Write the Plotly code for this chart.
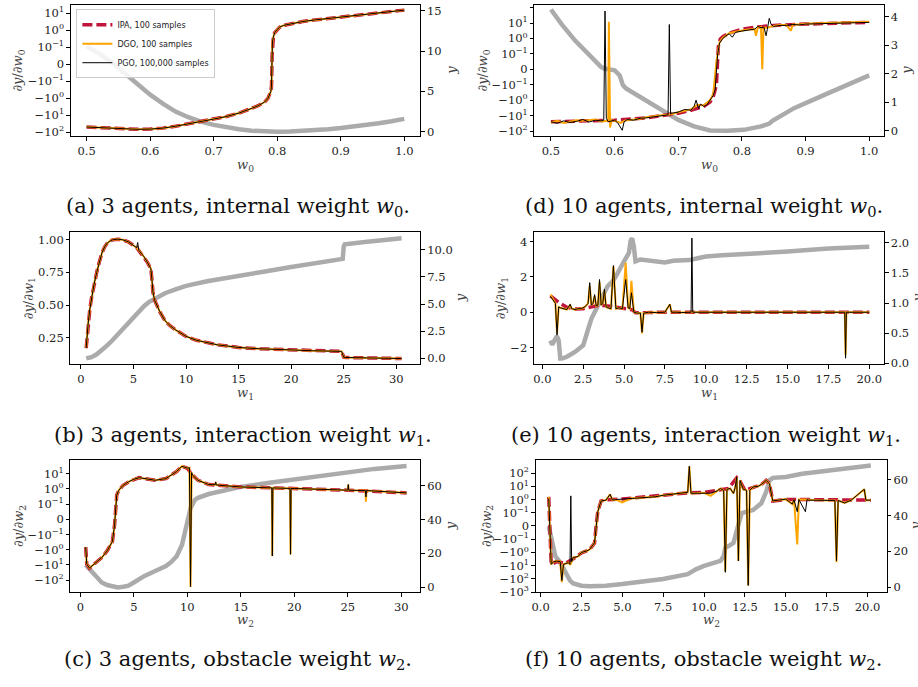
import math
import plotly.graph_objects as go

W, H = 918, 687

# ---------------- data ----------------
# (a) 3 agents, internal weight w0
x_a = [0.50, 0.52, 0.54, 0.56, 0.58, 0.60, 0.62, 0.64, 0.66, 0.68, 0.70, 0.72, 0.74, 0.76, 0.77, 0.78,
       0.785, 0.79, 0.791, 0.792, 0.7925, 0.794, 0.796, 0.80, 0.804, 0.81, 0.82, 0.84, 0.86, 0.88, 0.90,
       0.92, 0.94, 0.96, 0.98, 1.00]
ipa_a = [-50, -55, -60, -65, -68, -66, -58, -45, -33, -25, -17, -12, -7.5, -4, -2.8, -1.7,
         -1.1, -0.4, -0.2, 0.05, 0.2, 0.4, 0.7, 1.1, 1.5, 1.9, 2.3, 3.2, 4.0, 4.8, 5.9,
         6.9, 8.3, 10, 12.3, 15]
dgo_a = list(ipa_a)
pgo_a = list(ipa_a)
xg_a = [0.50, 0.52, 0.54, 0.56, 0.58, 0.60, 0.62, 0.64, 0.66, 0.68, 0.70, 0.72, 0.74, 0.76, 0.78, 0.80,
        0.82, 0.84, 0.86, 0.88, 0.90, 0.92, 0.94, 0.96, 0.98, 1.00]
y_a = [10.6, 9.7, 8.6, 7.3, 5.9, 4.6, 3.5, 2.5, 1.8, 1.25, 0.85, 0.55, 0.3, 0.12, 0.03, 0.0,
       0.02, 0.08, 0.17, 0.3, 0.45, 0.62, 0.82, 1.05, 1.3, 1.6]

# (d) 10 agents, internal weight w0
x_d_ipa = [0.5, 0.55, 0.6, 0.65, 0.7, 0.72, 0.74, 0.75, 0.755, 0.76, 0.763, 0.766, 0.77, 0.78, 0.8,
           0.82, 0.85, 0.9, 0.95, 1.0]
ipa_d = [-25, -22, -20, -14, -7, -4.5, -2.5, -1.3, -0.6, -0.1, 0.3, 0.9, 1.3, 2.2, 4, 5.2, 7, 8.5, 10, 11]
x_d_dgo = [0.50, 0.51, 0.52, 0.53, 0.54, 0.55, 0.56, 0.57, 0.58, 0.59, 0.591, 0.593, 0.595, 0.60, 0.61,
           0.615, 0.62, 0.63, 0.64, 0.65, 0.66, 0.67, 0.68, 0.69, 0.70, 0.71, 0.72, 0.73, 0.74, 0.75,
           0.755, 0.76, 0.765, 0.77, 0.78, 0.79, 0.80, 0.81, 0.82, 0.822, 0.825, 0.83, 0.832, 0.834, 0.84,
           0.85, 0.86, 0.87, 0.877, 0.88, 0.89, 0.90, 0.92, 0.94, 0.96, 0.98, 1.0]
dgo_d = [-28, -22, -30, -24, -20, -22, -20, -18, -24, -22, 12, -60, -20, -22, -30,
         -22, -20, -18, -16, -13, -11, -10, -9, -8, -6, -5, -4, -2, -2.2, -1,
         -0.4, 0.05, 0.6, 1.1, 2.2, 2.7, 3.2, 3.8, 4, 1.5, 5, 5.5, 0.0, 5, 5,
         6.5, 7.5, 7.5, 3.2, 8, 8, 9, 9.5, 10, 11, 12, 12]
x_d_pgo = [0.50, 0.51, 0.52, 0.53, 0.54, 0.55, 0.56, 0.57, 0.58, 0.583, 0.585, 0.587, 0.59, 0.60, 0.605,
           0.61, 0.612, 0.615, 0.62, 0.63, 0.64, 0.65, 0.66, 0.67, 0.68, 0.684, 0.686, 0.688, 0.69, 0.70,
           0.71, 0.72, 0.725, 0.728, 0.732, 0.735, 0.74, 0.745, 0.75, 0.755, 0.758, 0.762, 0.765, 0.77, 0.775,
           0.78, 0.785, 0.79, 0.80, 0.81, 0.82, 0.825, 0.83, 0.835, 0.838, 0.84, 0.843, 0.846, 0.85, 0.86,
           0.87, 0.88, 0.89, 0.90, 0.92, 0.94, 0.96, 0.98, 1.0]
pgo_d = [-25, -32, -22, -28, -24, -18, -26, -20, -22, -20, 60, -15, -25, -20, -30,
         -60, -90, -25, -18, -20, -15, -14, -12, -10, -9, -9, 8, -8, -7, -6,
         -4, -4.5, -2.5, -1.0, -3.5, -1.8, -2.5, -2, -1, -0.5, -0.2, 0.1, 0.5, 1, 1.5,
         2, 1.2, 2.5, 3, 3.5, 4, 6, 5, 5, 1.5, 4, 20, 8, 6, 7,
         7, 8, 7.5, 8.5, 9, 9.5, 10, 11, 11]
xg_d = [0.5, 0.517, 0.538, 0.558, 0.579, 0.584, 0.60, 0.608, 0.613, 0.618, 0.64, 0.673, 0.70, 0.725,
        0.75, 0.777, 0.803, 0.83, 0.843, 0.848, 0.882, 0.934, 1.0]
y_d = [4.25, 3.73, 3.16, 2.69, 2.23, 2.18, 2.12, 1.94, 1.6, 1.48, 1.19, 0.73, 0.38, 0.15,
       0.01, 0.0, 0.03, 0.15, 0.25, 0.35, 0.79, 1.3, 1.94]

# (b) 3 agents, interaction weight w1
x_b = [0.5, 0.6, 0.7, 0.85, 1.0, 1.25, 1.5, 1.75, 2.0, 2.25, 2.5, 2.75, 3.0, 3.5, 4.0, 4.5, 5.0, 5.3, 5.4,
       5.5, 5.8, 6.0, 6.3, 6.5, 6.65, 6.75, 6.85, 7.0, 7.25, 7.5, 8.0, 8.5, 9.0, 10, 11, 12, 13, 14, 15,
       17, 20, 22, 24.8, 25.0, 25.2, 27, 30.5]
ipa_b = [0.17, 0.28, 0.37, 0.47, 0.55, 0.66, 0.75, 0.83, 0.9, 0.945, 0.975, 0.99, 1.0, 1.005, 1.0, 0.985,
         0.96, 0.94, 0.93, 0.92, 0.89, 0.87, 0.83, 0.8, 0.78, 0.7, 0.6, 0.54, 0.49, 0.45, 0.38, 0.34, 0.31,
         0.26, 0.23, 0.21, 0.195, 0.185, 0.175, 0.165, 0.155, 0.15, 0.145, 0.1, 0.098, 0.095, 0.09]
dgo_b = [0.17, 0.28, 0.37, 0.47, 0.55, 0.66, 0.75, 0.83, 0.9, 0.945, 0.975, 0.99, 1.0, 1.005, 1.0, 0.985,
         0.96, 0.94, 0.93, 0.92, 0.89, 0.87, 0.83, 0.8, 0.78, 0.7, 0.6, 0.54, 0.49, 0.45, 0.38, 0.34, 0.31,
         0.26, 0.23, 0.21, 0.195, 0.185, 0.175, 0.165, 0.155, 0.15, 0.145, 0.1, 0.098, 0.095, 0.09]
pgo_b = [0.17, 0.28, 0.37, 0.47, 0.55, 0.66, 0.75, 0.83, 0.9, 0.945, 0.975, 0.99, 1.0, 1.005, 1.0, 0.985,
         0.96, 0.94, 0.98, 0.92, 0.89, 0.87, 0.83, 0.8, 0.78, 0.7, 0.6, 0.54, 0.49, 0.45, 0.38, 0.34, 0.31,
         0.26, 0.23, 0.21, 0.195, 0.185, 0.175, 0.165, 0.155, 0.15, 0.145, 0.1, 0.098, 0.095, 0.09]
xg_b = [0.5, 1, 1.5, 2, 2.5, 3, 3.5, 4, 4.5, 5, 5.5, 6, 6.5, 7, 7.5, 8, 9, 10, 12, 15, 17.5, 20, 22.5,
        24.9, 25.0, 25.1, 27, 30.5]
y_b = [0.0, 0.12, 0.38, 0.75, 1.2, 1.67, 2.2, 2.7, 3.25, 3.8, 4.3, 4.8, 5.2, 5.5, 5.78, 6.0, 6.35, 6.67,
       7.1, 7.64, 8.0, 8.4, 8.8, 9.15, 10.3, 10.5, 10.7, 11.05]

# (e) 10 agents, interaction weight w1
x_e_ipa = [0.5, 0.7, 1.0, 1.5, 2.0, 2.5, 3.0, 3.5, 4.0, 4.5, 5.0, 5.5, 5.7, 6.0, 6.5, 7.0, 8, 10, 12, 14,
           16, 18, 20]
ipa_e = [0.92, 0.75, 0.55, 0.28, 0.18, 0.2, 0.28, 0.4, 0.36, 0.27, 0.2, 0.14, -0.03, -0.04, -0.02, 0.0,
         0.0, 0.0, 0.0, 0.0, 0.0, 0.0, 0.0]
x_e = [0.5, 0.6, 0.7, 0.8, 0.9, 1.0, 1.1, 1.3, 1.5, 1.7, 1.8, 2.0, 2.2, 2.4, 2.6, 2.8, 2.9, 3.0, 3.1, 3.2,
       3.3, 3.4, 3.5, 3.6, 3.7, 3.8, 3.9, 4.0, 4.2, 4.35, 4.5, 4.7, 4.9, 5.1, 5.25, 5.35, 5.45, 5.6, 5.8,
       6.0, 6.1, 6.2, 6.5, 7.0, 7.5, 7.8, 7.9, 8.2, 8.5, 9.1, 9.15, 9.2, 10, 12, 14, 16, 18, 18.5, 18.55,
       18.6, 20]
dgo_e = [1.0, 0.8, 0.65, 0.5, -1.2, 0.3, 0.25, 0.2, 0.15, 0.4, 0.2, 0.15, 0.2, 0.2, 0.3, 0.5, 1.5, 0.4,
         0.5, 0.9, 0.35, 0.4, 1.7, 0.4, 0.5, 1.2, 0.3, 0.25, 0.2, 2.6, 0.2, 0.25, 0.2, 2.8, 0.25, 0.2,
         1.77, 0.0, -0.05, -0.05, -1.2, -0.05, 0.0, -0.02, 0.0, 0.45, 0.0, 0.0, -0.02, 0.0, 0.05, 0.0,
         0.0, 0.0, 0.0, 0.0, 0.0, 0.0, -2.4, 0.0, 0.0]
pgo_e = [0.9, 0.75, 0.6, 0.5, -1.3, 0.3, 0.25, 0.2, 0.15, 0.45, 0.2, 0.15, 0.2, 0.2, 0.3, 0.5, 1.67, 0.4,
         0.5, 1.0, 0.35, 0.4, 1.85, 0.4, 0.5, 1.3, 0.3, 0.25, 0.2, 2.64, 0.2, 0.25, 0.2, 1.85, 0.25, 0.2,
         1.1, 0.0, -0.05, -0.05, -1.13, -0.05, 0.0, -0.02, 0.0, 0.45, 0.0, 0.0, -0.02, 0.0, 4.19, 0.0,
         0.0, 0.0, 0.0, 0.0, 0.0, 0.0, -2.6, 0.0, 0.0]
xg_e = [0.5, 0.6, 0.7, 0.8, 0.9, 1.0, 1.05, 1.1, 1.2, 1.5, 2.0, 2.5, 2.75, 3.0, 3.5, 4.0, 4.3, 4.5, 5.0,
        5.3, 5.4, 5.5, 5.6, 5.7, 6.0, 6.5, 7.0, 7.5, 8.0, 8.5, 9.0, 9.5, 10, 11, 12.5, 15, 17.5, 20]
y_e = [0.38, 0.31, 0.36, 0.42, 0.45, 0.38, 0.15, 0.08, 0.08, 0.11, 0.19, 0.30, 0.52, 0.74, 1.01, 1.28,
       1.36, 1.44, 1.69, 1.83, 2.03, 2.07, 1.93, 1.69, 1.72, 1.70, 1.68, 1.67, 1.70, 1.71, 1.71, 1.74,
       1.77, 1.79, 1.81, 1.85, 1.90, 1.93]

# (c) 3 agents, obstacle weight w2
x_c_ipa = [0.5, 0.6, 0.85, 1.5, 2.0, 2.5, 3.0, 3.2, 3.3, 3.4, 3.6, 4.0, 4.5, 5.0, 5.5, 6.0, 7.0, 8.0,
           8.5, 9.0, 9.5, 10.0, 10.5, 11.0, 12.0, 13.0, 15, 18, 20, 25, 30.5]
ipa_c = [-0.68, -8.9, -16, -6.9, -3.3, -1.2, -0.28, -0.036, 0.094, 0.39, 0.83, 1.74, 2.9, 4.3, 5.5, 4.8,
         3.7, 4.8, 7.8, 14, 31, 23, 7.9, 3.7, 1.95, 1.74, 1.35, 1.17, 1.07, 0.83, 0.55]
x_c = [0.5, 0.6, 0.85, 1.5, 2.0, 2.5, 3.0, 3.2, 3.3, 3.4, 3.6, 4.0, 4.5, 5.0, 5.5, 6.0, 7.0, 8.0, 8.5,
       9.0, 9.5, 10.0, 10.2, 10.3, 10.4, 10.5, 11.0, 12.0, 12.6, 12.65, 12.7, 13.0, 15, 17.9, 17.95, 18.0,
       19.6, 19.65, 19.7, 20, 25.0, 25.05, 25.1, 26.65, 26.7, 26.75, 30.5]
dgo_c = [-0.68, -8.9, -16, -6.9, -3.3, -1.2, -0.28, -0.036, 0.094, 0.39, 0.83, 1.74, 2.9, 4.3, 5.5, 4.8,
         3.7, 4.8, 7.8, 14, 31, 23, 25, -280, 12, 7.9, 3.7, 1.95, 1.9, 2.9, 1.85, 1.74, 1.35, 1.17, -2.6,
         1.17, 1.08, -2.0, 1.07, 1.07, 0.83, 1.95, 0.82, 0.78, 0.145, 0.78, 0.55]
pgo_c = [-0.68, -8.9, -16, -6.9, -3.3, -1.2, -0.28, -0.036, 0.094, 0.39, 0.83, 1.74, 2.9, 4.3, 5.5, 4.8,
         3.7, 4.8, 7.8, 14, 31, 23, 25, -260, 12, 7.9, 3.7, 1.95, 1.9, 2.9, 1.85, 1.74, 1.35, 1.17, -2.6,
         1.17, 1.08, -2.0, 1.07, 1.07, 0.83, 1.95, 0.82, 0.78, 0.3, 0.78, 0.55]
xg_c = [0.5, 1.0, 1.5, 2.0, 2.5, 3.0, 3.5, 4.0, 4.5, 5.0, 6.0, 7.0, 8.0, 8.5, 9.0, 9.5, 10.0, 10.3, 10.7,
        11.0, 12.0, 13.0, 15, 17.5, 20, 22.5, 25, 27.5, 30.5]
y_c = [13.2, 9.7, 5.8, 2.9, 1.4, 0.4, 0.0, 0.4, 1.0, 2.9, 6.8, 9.7, 12.6, 15, 18.4, 25, 38.8, 46.6, 51.5,
       52.8, 55, 56.3, 59.2, 61.5, 63.7, 66, 68, 69.8, 71.5]

# (f) 10 agents, obstacle weight w2
x_f_ipa = [0.5, 0.6, 0.65, 1.0, 1.5, 2.0, 2.5, 3.0, 3.3, 3.4, 3.5, 3.7, 4.0, 5.0, 7.5, 9.0, 10.0, 11.0,
           11.5, 12.0, 12.2, 12.5, 13.0, 13.5, 13.8, 14.0, 14.2, 15, 16, 18, 20.2]
ipa_f = [1.6, -0.8, -8, -5, -7, -3, -1.1, -0.6, -0.2, 0.007, 0.12, 0.78, 0.95, 1.1, 2.1, 3.2, 3.5, 5.5,
         6.8, 45, 25, 5, 8.9, 13.5, 28, 16, 0.78, 1.0, 1.0, 0.9, 0.9]
x_f = [0.5, 0.6, 0.65, 0.8, 1.0, 1.2, 1.3, 1.4, 1.5, 1.7, 1.8, 1.85, 1.9, 2.0, 2.3, 2.5, 2.8, 3.0, 3.3,
       3.4, 3.5, 3.7, 4.0, 4.25, 4.4, 4.6, 5.0, 5.5, 6, 7, 7.5, 8, 8.5, 9.0, 9.1, 9.2, 9.6, 10.0, 10.4,
       10.8, 11.0, 11.2, 11.3, 11.4, 11.6, 11.8, 11.9, 12.0, 12.1, 12.2, 12.4, 12.6, 12.7, 12.8, 13.0,
       13.3, 13.5, 13.8, 14.0, 14.2, 14.6, 15.0, 15.4, 15.5, 15.7, 15.8, 16.2, 16.3, 16.4, 17, 18.0, 18.1,
       18.2, 18.6, 19, 19.8, 19.9, 20.2]
dgo_f = [1.6, -0.8, -8, -5, -4.5, -5, -180, -8, -7, -6, -8, -7, -5, -2.5, -2, -1.0, -0.8, -0.6, -0.19,
         0.007, 0.12, 0.78, 0.9, 2.5, 0.9, 1.0, 0.6, 1.2, 1.3, 1.6, 2.1, 2.4, 2.8, 3.5, 330, 3.0, 3.0, 3.2,
         1.9, 4.5, 6.8, 5, -25, 6, 7, 2.9, 8, 50, -4.4, 28, 6, 5, -316, 5, 8.9,
         10, 13.5, 28, 16, 0.78, 0.9, 1.07, 0.45, 1.0, -0.25, 1.0, 1.0, 1.0, 0.9, 0.9, 0.85, -5.6,
         0.85, 0.55, 0.9, 6, 0.9, 0.9]
pgo_f = [1.2, -0.8, -8, -5, -4.5, -5, -135, -8, -7, -6, -8, 1.9, -5, -2.5, -2, -1.0, -0.8, -0.6, -0.19,
         0.007, 0.12, 0.78, 0.9, 2.5, 0.9, 1.0, 1.1, 1.2, 1.3, 1.6, 2.1, 2.4, 2.8, 3.5, 330, 3.0, 3.0, 3.2,
         3.0, 4.5, 6.8, 5, -32, 6, 7, 2.9, 8, 50, -4.4, 28, 6, 5, -316, 5, 8.9,
         10, 13.5, 28, 16, 0.78, 0.9, 1.07, 0.45, 1.0, 0.12, 1.0, 0.12, 1.0, 0.9, 0.9, 0.85, -4.4,
         0.85, 0.55, 0.9, 6, 0.9, 0.9]
xg_f = [0.5, 0.7, 0.9, 1.2, 1.5, 1.8, 2.0, 2.5, 3.0, 3.5, 4.0, 5.0, 6.0, 7.5, 9.0, 9.5, 10.0, 11.0, 11.2,
        11.3, 11.5, 11.8, 12.1, 12.3, 13.0, 13.5, 13.8, 14.0, 14.2, 15, 16, 17.5, 19, 20.2]
y_f = [34, 25.7, 17.4, 13.8, 9.2, 3.7, 2.2, 0.9, 0.55, 0.5, 0.9, 1.8, 2.75, 4.6, 7.3, 10, 11.9, 14.7, 17.4,
       22, 23, 24.8, 34.9, 41.3, 43.1, 46.8, 53.2, 59.6, 61, 61.5, 63.3, 65, 66.3, 67.9]

symlog_tick_values = [-1000, -100, -10, -1, -0.1, 0, 0.1, 1, 10, 100]
symlog_tick_labels = ["−10<sup>3</sup>", "−10<sup>2</sup>", "−10<sup>1</sup>", "−10<sup>0</sup>",
                      "−10<sup>−1</sup>", "0", "10<sup>−1</sup>", "10<sup>0</sup>", "10<sup>1</sup>",
                      "10<sup>2</sup>"]

captions = ["(a) 3 agents, internal weight <i>w</i><sub>0</sub>.",
            "(b) 3 agents, interaction weight <i>w</i><sub>1</sub>.",
            "(c) 3 agents, obstacle weight <i>w</i><sub>2</sub>.",
            "(d) 10 agents, internal weight <i>w</i><sub>0</sub>.",
            "(e) 10 agents, interaction weight <i>w</i><sub>1</sub>.",
            "(f) 10 agents, obstacle weight <i>w</i><sub>2</sub>."]
series_names = ["IPA, 100 samples", "DGO, 100 samples", "PGO, 100,000 samples"]


def symlog(vals, th=0.1):
    out = []
    for v in vals:
        if abs(v) < th:
            out.append(v / th)
        else:
            out.append(math.copysign(1 + math.log10(abs(v) / th), v))
    return out


# ---------------- layout of panels (pixels) ----------------
SERIF = "DejaVu Serif"
C_IPA, C_DGO, C_PGO, C_Y = "#c0143c", "#ffa500", "#000000", "#ababab"

panels = [
    dict(box=(67, 4, 418, 137), xr=[0.475, 1.025], yl=[-4.25, 3.48], yr=[-0.58, 15.74], sym=True,
         xd=dict(tick0=0.5, dtick=0.1, tickformat=".1f"), yld=None, yrd=dict(tick0=0, dtick=5),
         data=(x_a, ipa_a, x_a, dgo_a, x_a, pgo_a, xg_a, y_a), sub="0",
         cap=0, cap_xy=(235, 208), lt=15, rt=450, xt=166),
    dict(box=(532.7, 4, 884, 137), xr=[0.474, 1.0235], yl=[-4.35, 4.17], yr=[-0.2, 4.41], sym=True,
         xd=dict(tick0=0.5, dtick=0.1, tickformat=".1f"), yld=None, yrd=dict(tick0=0, dtick=1),
         data=(x_d_ipa, ipa_d, x_d_dgo, dgo_d, x_d_pgo, pgo_d, xg_d, y_d), sub="0",
         cap=3, cap_xy=(703, 208), lt=482, rt=907, xt=166),
    dict(box=(66.7, 234, 418.3, 367.7), xr=[-1.0, 32.3], yl=[0.045, 1.058], yr=[-0.55, 11.6], sym=False,
         xd=dict(tick0=0, dtick=5), yld=dict(tick0=0, dtick=0.25, tickformat=".2f"),
         yrd=dict(tick0=0, dtick=2.5, tickformat=".1f"),
         data=(x_b, ipa_b, x_b, dgo_b, x_b, pgo_b, xg_b, y_b), sub="1",
         cap=1, cap_xy=(240, 440), lt=25, rt=458, xt=397),
    dict(box=(532.3, 234, 884, 367.7), xr=[-0.51, 20.91], yl=[-2.95, 4.52], yr=[-0.016, 2.17], sym=False,
         xd=dict(tick0=0, dtick=2.5, tickformat=".1f"), yld=dict(tick0=0, dtick=2),
         yrd=dict(tick0=0, dtick=0.5, tickformat=".1f"),
         data=(x_e_ipa, ipa_e, x_e, dgo_e, x_e, pgo_e, xg_e, y_e), sub="1",
         cap=4, cap_xy=(705, 440), lt=500, rt=917, xt=397),
    dict(box=(66.7, 464.3, 418.3, 598.3), xr=[-0.93, 31.8], yl=[-4.8, 3.91], yr=[-2.9, 75.1], sym=True,
         xd=dict(tick0=0, dtick=5), yld=None, yrd=dict(tick0=0, dtick=20),
         data=(x_c_ipa, ipa_c, x_c, dgo_c, x_c, pgo_c, xg_c, y_c), sub="2",
         cap=2, cap_xy=(235, 667), lt=15, rt=448, xt=627),
    dict(box=(534, 464.3, 886.7, 598.3), xr=[-0.3, 21.18], yl=[-5.02, 5.0], yr=[-2.8, 71], sym=True,
         xd=dict(tick0=0, dtick=2.5, tickformat=".1f"), yld=None, yrd=dict(tick0=0, dtick=20),
         data=(x_f_ipa, ipa_f, x_f, dgo_f, x_f, pgo_f, xg_f, y_f), sub="2",
         cap=5, cap_xy=(703, 667), lt=485, rt=915, xt=627),
]

fig = go.Figure()
layout = dict(width=W, height=H, margin=dict(l=0, r=0, t=0, b=0),
              paper_bgcolor="white", plot_bgcolor="white", showlegend=True,
              font=dict(family=SERIF, size=11.5, color="#222"))
annotations = []

tickfont = dict(family=SERIF, size=11.5, color="#222")
axis_common = dict(showgrid=False, zeroline=False, showline=True, linecolor="#000", linewidth=0.8,
                   ticks="outside", ticklen=3.5, tickwidth=0.8, tickcolor="#000", tickfont=tickfont)

for i, p in enumerate(panels):
    k = i + 1
    xl, yt, xr_, yb = p["box"]
    xdom = [xl / W, xr_ / W]
    ydom = [1 - yb / H, 1 - yt / H]
    xname = "xaxis" if k == 1 else f"xaxis{k}"
    xref = "x" if k == 1 else f"x{k}"
    yb_idx, yo_idx = 2 * k - 1, 2 * k
    ybname = "yaxis" if yb_idx == 1 else f"yaxis{yb_idx}"
    ybref = "y" if yb_idx == 1 else f"y{yb_idx}"
    yoname, yoref = f"yaxis{yo_idx}", f"y{yo_idx}"

    xa = dict(axis_common, domain=xdom, range=p["xr"], anchor=ybref, mirror=True, tickmode="linear")
    xa.update(p["xd"])
    layout[xname] = xa

    yba = dict(axis_common, domain=ydom, range=p["yr"], anchor=xref, side="right", tickmode="linear")
    yba.update(p["yrd"])
    layout[ybname] = yba

    yoa = dict(axis_common, range=p["yl"], anchor=xref, side="left", overlaying=ybref)
    if p["sym"]:
        yoa.update(tickmode="array", tickvals=symlog(symlog_tick_values), ticktext=symlog_tick_labels)
    else:
        yoa.update(tickmode="linear")
        yoa.update(p["yld"])
    layout[yoname] = yoa

    xi, ipa, xdg, dgo, xpg, pgo, xg, yg = p["data"]
    tf = symlog if p["sym"] else (lambda v: v)
    show = (k == 1)
    fig.add_trace(go.Scatter(x=xg, y=yg, mode="lines", line=dict(color=C_Y, width=4.5),
                             xaxis=xref, yaxis=ybref, showlegend=False, hoverinfo="skip"))
    fig.add_trace(go.Scatter(x=xi, y=tf(ipa), mode="lines", name=series_names[0],
                             line=dict(color=C_IPA, width=3.5, dash="10px,4px"),
                             xaxis=xref, yaxis=yoref, showlegend=show))
    fig.add_trace(go.Scatter(x=xdg, y=tf(dgo), mode="lines", name=series_names[1],
                             line=dict(color=C_DGO, width=2),
                             xaxis=xref, yaxis=yoref, showlegend=show))
    fig.add_trace(go.Scatter(x=xpg, y=tf(pgo), mode="lines", name=series_names[2],
                             line=dict(color=C_PGO, width=1),
                             xaxis=xref, yaxis=yoref, showlegend=show))

    ymid = 1 - ((yt + yb) / 2) / H
    annotations.append(dict(x=p["lt"] / W, y=ymid, xref="paper", yref="paper", showarrow=False,
                            text=f"<i>∂y</i>/<i>∂w</i><sub>{p['sub']}</sub>", textangle=-90,
                            font=dict(family=SERIF, size=13, color="#444"), xanchor="center", yanchor="middle"))
    annotations.append(dict(x=p["rt"] / W, y=ymid, xref="paper", yref="paper", showarrow=False,
                            text="<i>y</i>", textangle=-90,
                            font=dict(family=SERIF, size=13, color="#444"), xanchor="center", yanchor="middle"))
    annotations.append(dict(x=((xl + xr_) / 2) / W, y=1 - p["xt"] / H, xref="paper", yref="paper",
                            showarrow=False, text=f"<i>w</i><sub>{p['sub']}</sub>",
                            font=dict(family=SERIF, size=13, color="#444"), xanchor="center", yanchor="middle"))
    cx, cy = p["cap_xy"]
    annotations.append(dict(x=cx / W, y=1 - cy / H, xref="paper", yref="paper", showarrow=False,
                            text=captions[p["cap"]], font=dict(family=SERIF, size=21, color="#111"),
                            xanchor="center", yanchor="middle"))

layout["annotations"] = annotations
layout["legend"] = dict(x=72.7 / W, y=1 - 8.3 / H, xanchor="left", yanchor="top",
                        bgcolor="rgba(255,255,255,0.85)", bordercolor="#cccccc", borderwidth=1,
                        font=dict(family="DejaVu Sans", size=8, color="#222"),
                        tracegroupgap=0, itemwidth=30)
fig.update_layout(**layout)
fig.write_html("out.html", config={"displayModeBar": False},
               post_script="document.body.style.margin='0';document.body.style.overflow='hidden';")
